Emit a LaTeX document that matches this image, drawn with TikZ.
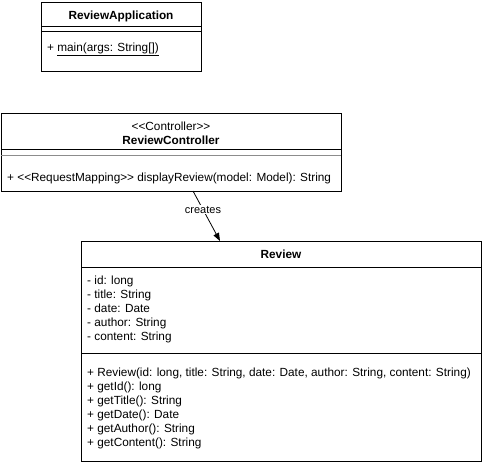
\documentclass[tikz,border=0pt]{standalone}
\usepackage{fontspec}
\setmainfont{Liberation Sans}
\usetikzlibrary{arrows.meta}
\begin{document}
\begin{tikzpicture}[x=1pt,y=-1pt,
  box/.style={draw=black,line width=0.8pt,fill=white,anchor=north west,inner sep=0pt},
  sep/.style={draw=black,line width=0.8pt},
  gsep/.style={draw=black!45,line width=1.6pt},
  txt/.style={font=\fontsize{11.8}{14}\selectfont,inner sep=0pt,anchor=west,text height=8.6pt,text depth=2.6pt},
  ctxt/.style={font=\fontsize{11.8}{14}\selectfont,inner sep=0pt,text height=8.6pt,text depth=2.6pt},
  btxt/.style={font=\fontsize{11.8}{14}\selectfont\bfseries,inner sep=0pt,text height=8.6pt,text depth=2.6pt}]
\useasboundingbox (0,0) rectangle (483,466);
% ReviewApplication
\node[box,minimum width=160pt,minimum height=69pt] (app) at (41,2) {};
\node[btxt] (appname) at (121,16) {ReviewApplication};
\draw[sep] (41,26) -- (201,26);
\draw[sep] (41,31) -- (201,31);
\node[txt] (appm) at (47,48) {+ \underline{main(args: String[])}};
% ReviewController
\node[box,minimum width=340pt,minimum height=78pt] (ctrl) at (1,113) {};
\node[ctxt] (ctrlst) at (171,127.5) {<{}<Controller>{}>};
\node[btxt] (ctrlname) at (171,141) {ReviewController};
\draw[sep] (1,149) -- (341,149);
\draw[gsep] (1,155.5) -- (341,155.5);
\node[txt] (ctrlm) at (7,178) {+ <{}<RequestMapping>{}> displayReview(model: Model): String};
% Review
\node[box,minimum width=400pt,minimum height=220pt] (rev) at (81,241) {};
\node[btxt] (revname) at (281,255.5) {Review};
\draw[sep] (81,267) -- (481,267);
\draw[sep] (81,353) -- (481,353);
\node[txt] (a1) at (87,281) {- id: long};
\node[txt] (a2) at (87,295) {- title: String};
\node[txt] (a3) at (87,309) {- date: Date};
\node[txt] (a4) at (87,323) {- author: String};
\node[txt] (a5) at (87,337) {- content: String};
\node[txt] (m1) at (87,373) {+ Review(id: long, title: String, date: Date, author: String, content: String)};
\node[txt] (m2) at (87,387) {+ getId(): long};
\node[txt] (m3) at (87,401) {+ getTitle(): String};
\node[txt] (m4) at (87,415) {+ getDate(): Date};
\node[txt] (m5) at (87,429) {+ getAuthor(): String};
\node[txt] (m6) at (87,443) {+ getContent(): String};
% connector
\coordinate (cs) at (193,191);
\coordinate (ce) at (220,241);
\draw[line width=0.8pt,-{Triangle[length=8pt,width=6pt]}] (cs) -- (ce)
  node[pos=0.37,fill=white,inner sep=1pt,font=\fontsize{11}{13}\selectfont] (lbl) {creates};
\end{tikzpicture}
\end{document}
